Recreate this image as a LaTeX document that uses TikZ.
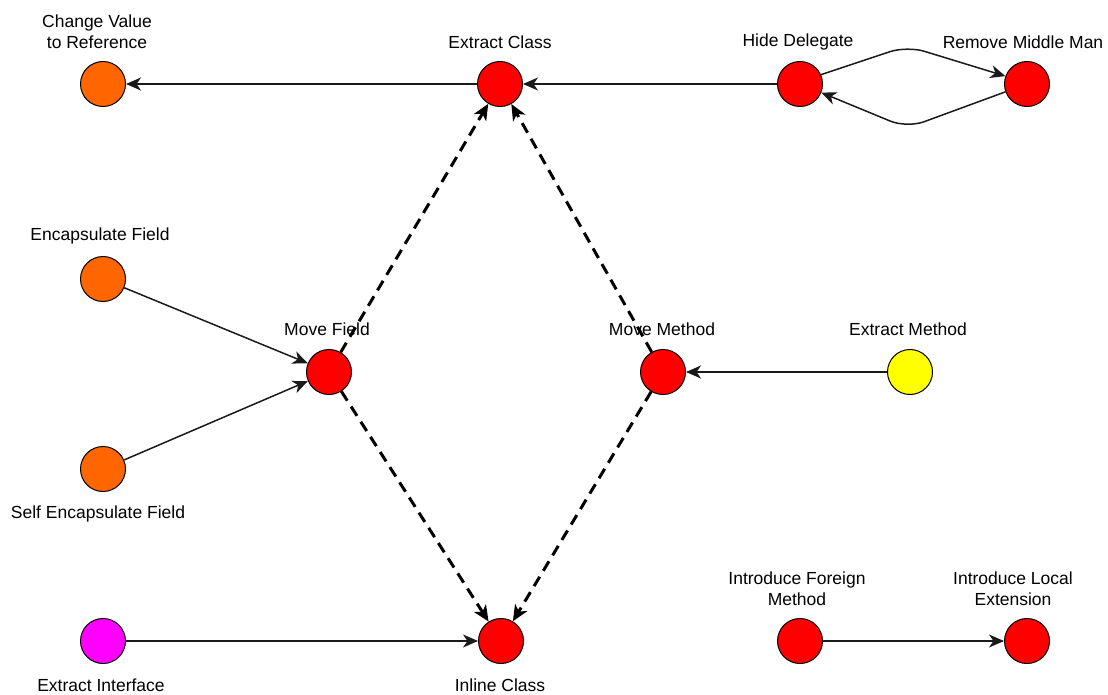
\documentclass[tikz,border=0pt]{standalone}
\usepackage{fontspec}
\setmainfont{Liberation Sans}
\usetikzlibrary{arrows.meta}
\definecolor{orng}{HTML}{FF6600}
\definecolor{rd}{HTML}{FF0000}
\definecolor{yl}{HTML}{FFFF00}
\definecolor{mg}{HTML}{FF00FF}
\definecolor{edgegray}{HTML}{1A1A1A}
\begin{document}
\begin{tikzpicture}[x=1pt,y=-1pt,
  refnode/.style={circle,draw=black,line width=1pt,minimum size=45pt,inner sep=0pt},
  lbl/.style={font=\fontsize{17.5}{21.5}\selectfont,align=center,inner sep=0pt},
  link/.style={draw=edgegray,line width=1.5pt,-{Stealth[length=15pt,width=13pt,inset=4.5pt]}},
  dlink/.style={draw=black,line width=3pt,dash pattern=on 11pt off 7pt,
    -{Stealth[length=16pt,width=14pt,inset=4.5pt]}}]
\useasboundingbox (0,0) rectangle (1108,695);

% circles
\node[refnode,fill=orng] (cvr) at (103,84) {};
\node[refnode,fill=rd]   (ec)  at (500,84) {};
\node[refnode,fill=rd]   (hd)  at (800,84) {};
\node[refnode,fill=rd]   (rmm) at (1027,84) {};
\node[refnode,fill=orng] (ef)  at (103,279) {};
\node[refnode,fill=rd]   (mf)  at (329,372) {};
\node[refnode,fill=rd]   (mm)  at (663,372) {};
\node[refnode,fill=yl]   (em)  at (910,372) {};
\node[refnode,fill=orng] (sef) at (103,469) {};
\node[refnode,fill=mg]   (ei)  at (103,641) {};
\node[refnode,fill=rd]   (ic)  at (501,641) {};
\node[refnode,fill=rd]   (ifm) at (800,641) {};
\node[refnode,fill=rd]   (ile) at (1027,641) {};

% labels
\node[lbl] (tcvr) at (97,31.5) {Change Value\\to Reference};
\node[lbl] (tec)  at (500,42) {Extract Class};
\node[lbl] (thd)  at (798,42) {Hide Delegate};
\node[lbl] (trmm) at (1023,42) {Remove Middle Man};
\node[lbl] (tef)  at (100,236) {Encapsulate Field};
\node[lbl] (tmf)  at (327,329) {Move Field};
\node[lbl] (tmm)  at (662,329) {Move Method};
\node[lbl] (tem)  at (908,329) {Extract Method};
\node[lbl] (tsef) at (98,514) {Self Encapsulate Field};
\node[lbl] (tifm) at (797,588.5) {Introduce Foreign\\Method};
\node[lbl] (tile) at (1013,588.5) {Introduce Local\\Extension};
\node[lbl] (tei)  at (101,685) {Extract Interface};
\node[lbl] (tic)  at (500,685) {Inline Class};

% bend points of the two-way link
\coordinate (up) at (907,46);
\coordinate (dn) at (907,128);

% solid links
\draw[link] (ec) -- (cvr);
\draw[link] (hd) -- (ec);
\draw[link,rounded corners=18pt] (hd.24) -- (up) -- (rmm.160);
\draw[link,rounded corners=18pt] (rmm.200) -- (dn) -- (hd.-22);
\draw[link] (ef) -- (mf);
\draw[link] (sef) -- (mf);
\draw[link] (em) -- (mm);
\draw[link] (ei) -- (ic);
\draw[link] (ifm) -- (ile);

% dashed links
\draw[dlink] (mf) -- (ec);
\draw[dlink] (mm) -- (ec);
\draw[dlink] (mf) -- (ic);
\draw[dlink] (mm) -- (ic);
\end{tikzpicture}
\end{document}
